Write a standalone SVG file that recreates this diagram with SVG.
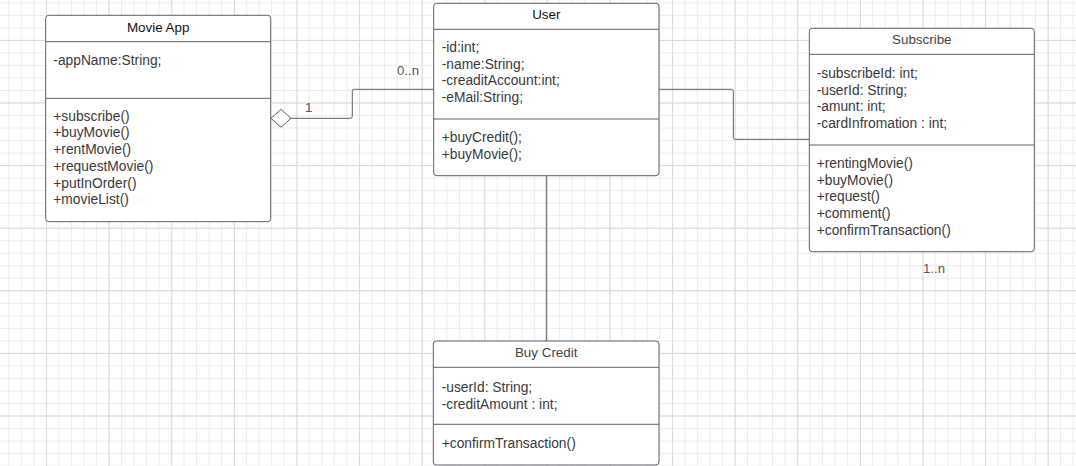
<svg xmlns="http://www.w3.org/2000/svg" width="1076" height="466" viewBox="0 0 1076 466">
  <defs>
    <pattern id="minor" x="8.3" y="14.9" width="12.52" height="12.52" patternUnits="userSpaceOnUse">
      <path d="M0 0.5H12.52M0.5 0V12.52" fill="none" stroke="#ececec" stroke-width="1"/>
    </pattern>
    <pattern id="major" x="46.1" y="39.9" width="62.6" height="62.6" patternUnits="userSpaceOnUse">
      <path d="M0 0.5H62.6M0.5 0V62.6" fill="none" stroke="#dadada" stroke-width="1"/>
    </pattern>
    <style>
      .box { fill: #ffffff; stroke: #5f6069; stroke-width: 1; }
      .sep { stroke: #5f6069; stroke-width: 1; fill: none; }
      .title { font-family: "Liberation Sans", Arial, sans-serif; font-size: 13.4px; text-anchor: middle; }
      .body { font-family: "Liberation Sans", Arial, sans-serif; font-size: 13.8px; fill: #3a3a3a; }
      .conn { fill: none; stroke: #5f6069; stroke-width: 1; }
      .lbl { font-family: "Liberation Sans", Arial, sans-serif; font-size: 13.2px; fill: #555555; }
    </style>
  </defs>

  <!-- background grid -->
  <rect width="1076" height="466" fill="#ffffff"/>
  <rect width="1076" height="466" fill="url(#minor)"/>
  <rect width="1076" height="466" fill="url(#major)"/>

  <!-- connectors -->
  <g id="connectors">
    <!-- Movie App (aggregate) to User -->
    <path class="conn" d="M291 118.3H350.3Q352.3 118.3 352.3 116.3V91.3Q352.3 89.3 354.3 89.3H433.7"/>
    <polygon points="271,118.3 281,109.3 291,118.3 281,127.3" fill="#ffffff" stroke="#5f6069" stroke-width="1"/>
    <text class="lbl" x="305" y="112">1</text>
    <text class="lbl" x="397" y="75">0..n</text>
    <!-- User to Subscribe -->
    <path class="conn" d="M659 89.3H731.3Q733.3 89.3 733.3 91.3V137.3Q733.3 139.3 735.3 139.3H809.3"/>
    <text class="lbl" x="923" y="273">1..n</text>
    <!-- User to Buy Credit -->
    <path class="conn" d="M546.3 175.7V341"/>
  </g>

  <!-- Movie App -->
  <g id="movie-app">
    <rect class="box" x="45.7" y="15.3" width="225" height="206.4" rx="3"/>
    <path class="sep" d="M45.7 41.7H270.7M45.7 98.3H270.7"/>
    <text class="title" x="158.2" y="31.5" fill="#111111">Movie App</text>
    <text class="body" x="53.3" y="64.5">-appName:String;</text>
    <text class="body" x="53.3" y="120.7">+subscribe()</text>
    <text class="body" x="53.3" y="137.4">+buyMovie()</text>
    <text class="body" x="53.3" y="154.1">+rentMovie()</text>
    <text class="body" x="53.3" y="170.8">+requestMovie()</text>
    <text class="body" x="53.3" y="187.5">+putInOrder()</text>
    <text class="body" x="53.3" y="204.2">+movieList()</text>
  </g>

  <!-- User -->
  <g id="user">
    <rect class="box" x="433.7" y="3.3" width="225.3" height="172.4" rx="3"/>
    <path class="sep" d="M433.7 29.3H659M433.7 119H659"/>
    <text class="title" x="546.3" y="19.3" fill="#111111">User</text>
    <text class="body" x="441.7" y="51.7">-id:int;</text>
    <text class="body" x="441.7" y="68.5">-name:String;</text>
    <text class="body" x="441.7" y="85.3">-creaditAccount:int;</text>
    <text class="body" x="441.7" y="102.1">-eMail:String;</text>
    <text class="body" x="441.7" y="141.7">+buyCredit();</text>
    <text class="body" x="441.7" y="158.5">+buyMovie();</text>
  </g>

  <!-- Subscribe -->
  <g id="subscribe">
    <rect class="box" x="809.3" y="28.3" width="225" height="223.4" rx="3"/>
    <path class="sep" d="M809.3 54.3H1034.3M809.3 145H1034.3"/>
    <text class="title" x="921.8" y="44.3" fill="#444444">Subscribe</text>
    <text class="body" x="816.7" y="77.8">-subscribeId: int;</text>
    <text class="body" x="816.7" y="94.6">-userId: String;</text>
    <text class="body" x="816.7" y="111.4">-amunt: int;</text>
    <text class="body" x="816.7" y="128.2">-cardInfromation : int;</text>
    <text class="body" x="816.7" y="167.7">+rentingMovie()</text>
    <text class="body" x="816.7" y="184.5">+buyMovie()</text>
    <text class="body" x="816.7" y="201.3">+request()</text>
    <text class="body" x="816.7" y="218.1">+comment()</text>
    <text class="body" x="816.7" y="234.9">+confirmTransaction()</text>
  </g>

  <!-- Buy Credit -->
  <g id="buy-credit">
    <rect class="box" x="433.3" y="341" width="225.7" height="124" rx="3"/>
    <path class="sep" d="M433.3 367.3H659M433.3 424.3H659"/>
    <text class="title" x="546.2" y="356.9" fill="#444444">Buy Credit</text>
    <text class="body" x="441.7" y="391.7">-userId: String;</text>
    <text class="body" x="441.7" y="408.5">-creditAmount : int;</text>
    <text class="body" x="441.7" y="448.3">+confirmTransaction()</text>
  </g>
</svg>
